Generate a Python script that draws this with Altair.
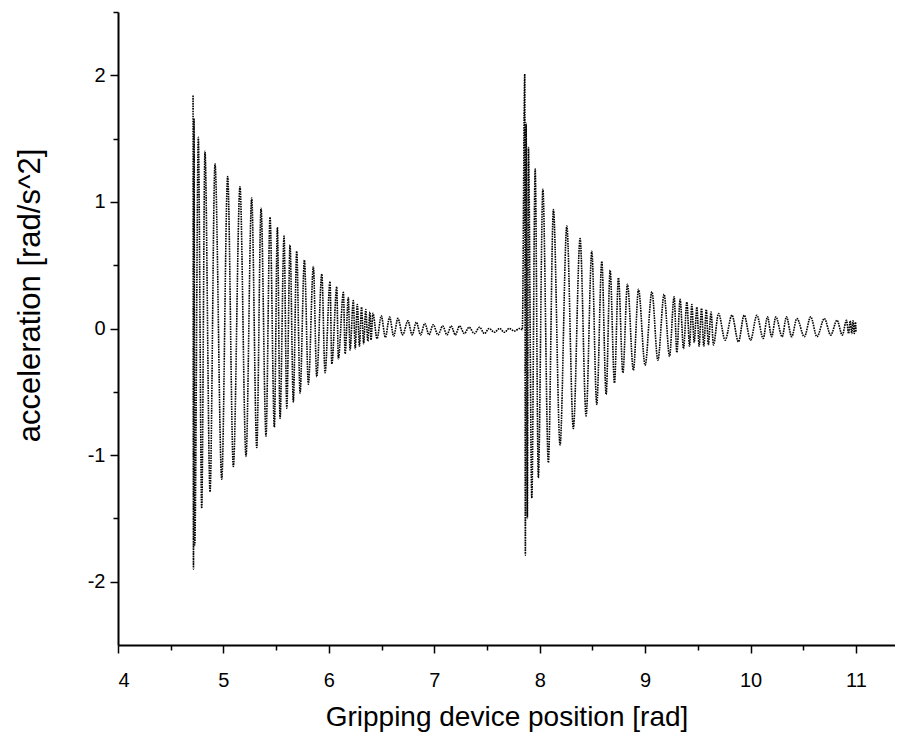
import altair as alt
import pandas as pd

# ---- data (extrema of the oscillation trace) ----
burst1_x = [4.712, 4.716, 4.721, 4.728, 4.762, 4.794, 4.825, 4.873, 4.920, 4.984,
            5.040, 5.094, 5.157, 5.214, 5.268, 5.316, 5.357, 5.404, 5.442, 5.483,
            5.512, 5.537, 5.575, 5.601, 5.632, 5.663, 5.695, 5.727, 5.768, 5.806,
            5.853, 5.885, 5.933, 5.964, 6.011, 6.028, 6.075, 6.090, 6.138, 6.154,
            6.185, 6.201, 6.232, 6.25, 6.27, 6.29, 6.31, 6.33, 6.35, 6.37, 6.39, 6.40]
burst1_y = [1.84, -1.90, 1.66, -1.71, 1.51, -1.42, 1.40, -1.29, 1.30, -1.19,
            1.20, -1.09, 1.12, -1.01, 1.03, -0.94, 0.95, -0.85, 0.88, -0.78,
            0.80, -0.71, 0.73, -0.63, 0.66, -0.58, 0.61, -0.51, 0.54, -0.44,
            0.49, -0.38, 0.43, -0.35, 0.37, -0.28, 0.33, -0.24, 0.285, -0.20,
            0.245, -0.17, 0.22, -0.16, 0.19, -0.14, 0.17, -0.12, 0.15, -0.10, 0.13, -0.09]

ripple1_x = [6.418, 6.457, 6.497, 6.536, 6.576, 6.615, 6.655, 6.70, 6.75, 6.79,
             6.83, 6.87, 6.91, 6.95, 6.99, 7.035, 7.08, 7.12, 7.16, 7.20,
             7.24, 7.285, 7.33, 7.38, 7.43, 7.475, 7.52, 7.57, 7.62, 7.665,
             7.71, 7.76, 7.81, 7.835]
ripple1_y = [0.12, -0.08, 0.10, -0.07, 0.09, -0.06, 0.08, -0.05, 0.06, -0.05,
             0.05, -0.05, 0.04, -0.05, 0.03, -0.05, 0.02, -0.05, 0.02, -0.05,
             0.02, -0.04, 0.01, -0.04, 0.01, -0.04, 0.0, -0.03, 0.0, -0.03,
             0.0, -0.02, 0.0, -0.01]

burst2_x = [7.858, 7.864, 7.871, 7.883, 7.893, 7.925, 7.957, 7.987, 8.030, 8.082,
            8.130, 8.193, 8.257, 8.319, 8.383, 8.440, 8.494, 8.541, 8.589, 8.630,
            8.668, 8.709, 8.747, 8.789, 8.832, 8.889, 8.937, 9.000, 9.064, 9.121,
            9.180, 9.231, 9.275, 9.301, 9.332, 9.364, 9.396, 9.421, 9.443, 9.465,
            9.491, 9.512, 9.535, 9.556, 9.58, 9.60, 9.625, 9.648]
burst2_y = [2.01, -1.79, 1.62, -1.50, 1.43, -1.34, 1.26, -1.18, 1.10, -1.06,
            0.94, -0.92, 0.81, -0.79, 0.71, -0.69, 0.61, -0.60, 0.53, -0.52,
            0.46, -0.43, 0.40, -0.35, 0.35, -0.33, 0.31, -0.29, 0.29, -0.25,
            0.27, -0.22, 0.25, -0.19, 0.23, -0.16, 0.21, -0.14, 0.19, -0.11,
            0.17, -0.14, 0.16, -0.14, 0.15, -0.13, 0.13, -0.13]

tail_x = [9.696, 9.759, 9.823, 9.885, 9.939, 10.00, 10.06, 10.12, 10.16, 10.20,
          10.24, 10.30, 10.34, 10.39, 10.44, 10.51, 10.57, 10.63, 10.70, 10.76,
          10.82, 10.87, 10.91, 10.93, 10.945, 10.96, 10.972, 10.984, 10.995, 11.0]
tail_y = [0.118, -0.092, 0.105, -0.105, 0.105, -0.092, 0.105, -0.079, 0.092, -0.065,
          0.092, -0.065, 0.092, -0.065, 0.079, -0.065, 0.092, -0.065, 0.079, -0.052,
          0.065, -0.052, 0.065, -0.04, 0.06, -0.04, 0.06, -0.04, 0.05, -0.03]

x_major = [4, 5, 6, 7, 8, 9, 10, 11]
x_minor = [4.5, 5.5, 6.5, 7.5, 8.5, 9.5, 10.5]
y_major = [-2, -1, 0, 1, 2]
y_minor = [-1.5, -0.5, 0.5, 1.5, 2.5]

df = pd.DataFrame({
    "x": burst1_x + ripple1_x + burst2_x + tail_x,
    "y": burst1_y + ripple1_y + burst2_y + tail_y,
})

FONT = "Liberation Sans"
xscale = alt.Scale(domain=[4, 11.37], nice=False, zero=False)
yscale = alt.Scale(domain=[-2.5, 2.5], nice=False, zero=False)

line = alt.Chart(df).mark_line(
    color="black", strokeWidth=1.6, interpolate="monotone",
    strokeDash=[1.6, 0.9], clip=True
).encode(
    x=alt.X("x:Q", scale=xscale, axis=alt.Axis(
        values=x_major, labelExpr="'' + datum.value", orient="bottom", grid=False,
        domainColor="black", domainWidth=2, tickColor="black", tickWidth=1.5,
        tickSize=8, labelFont=FONT, labelFontSize=20, labelColor="black",
        labelPadding=17, title="Gripping device position [rad]",
        titleFont=FONT, titleFontSize=28, titleFontWeight="normal",
        titleColor="black", titlePadding=13)),
    y=alt.Y("y:Q", scale=yscale, axis=alt.Axis(
        values=y_major, labelExpr="'' + datum.value", orient="left", grid=False,
        domainColor="black", domainWidth=2, tickColor="black", tickWidth=1.5,
        tickSize=8, labelFont=FONT, labelFontSize=20, labelColor="black",
        labelPadding=5, title="acceleration [rad/s^2]",
        titleFont=FONT, titleFontSize=31, titleFontWeight="normal",
        titleColor="black", titleX=-72, titleY=283)),
)

minor_df = pd.DataFrame({"x": [x_minor[0]], "y": [y_minor[0]]})
minor = alt.Chart(minor_df).mark_point(opacity=0).encode(
    x=alt.X("x:Q", scale=xscale, axis=alt.Axis(
        values=x_minor, labels=False, domain=False, orient="bottom", grid=False,
        tickColor="black", tickWidth=1.5, tickSize=5, title=None)),
    y=alt.Y("y:Q", scale=yscale, axis=alt.Axis(
        values=y_minor, labels=False, domain=False, orient="left", grid=False,
        tickColor="black", tickWidth=1.5, tickSize=5, title=None)),
)

chart = alt.layer(line, minor).resolve_axis(
    x="independent", y="independent"
).properties(
    width=777, height=633,
    autosize=alt.AutoSizeParams(type="none"),
    padding={"left": 110, "top": 4, "right": 0, "bottom": 90},
    background="white",
).configure_view(stroke=None)

chart.save("out.html", embed_options={"renderer": "svg", "actions": False})
